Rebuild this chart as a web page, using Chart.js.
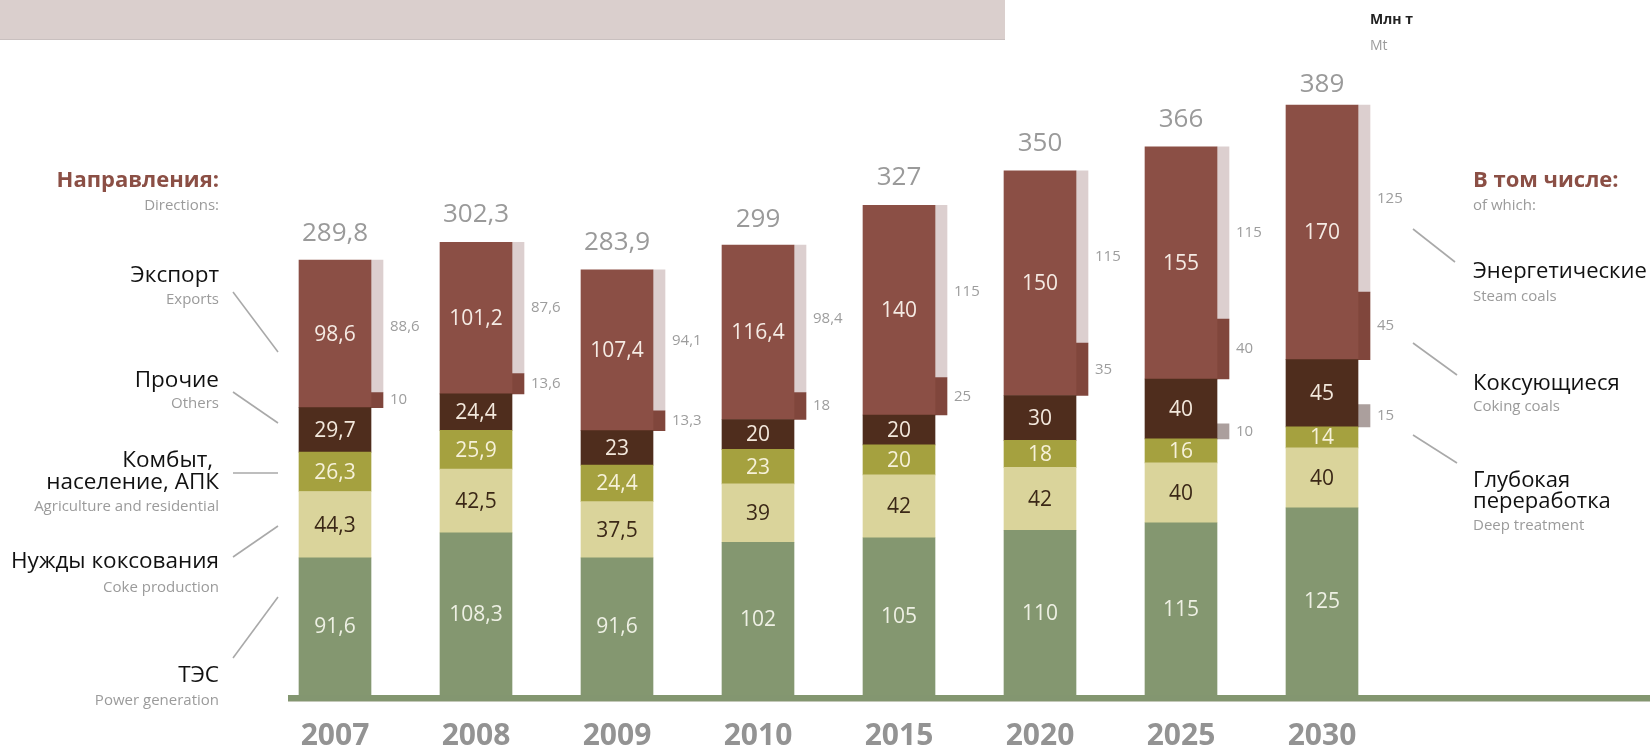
<!DOCTYPE html>
<html><head><meta charset="utf-8">
<script src="https://cdn.jsdelivr.net/npm/chart.js@4.4.1/dist/chart.umd.min.js"></script>
<style>
html,body{margin:0;padding:0;background:#fff;}
#wrap{position:relative;width:1650px;height:747px;overflow:hidden;}
#hdr{position:absolute;left:0;top:0;width:1005px;height:39px;background:#dacfcd;border-bottom:1px solid #c9c0bf;}
#c{position:absolute;left:0;top:0;}
</style></head><body>
<div id="wrap"><div id="hdr"></div><canvas id="c" width="1650" height="747"></canvas></div>
<script>
// ---- data ----
const years   = ['2007','2008','2009','2010','2015','2020','2025','2030'];
const power   = [91.6,108.3,91.6,102,105,110,115,125];
const coke    = [44.3,42.5,37.5,39,42,42,40,40];
const agri    = [26.3,25.9,24.4,23,20,18,16,14];
const others  = [29.7,24.4,23,20,20,30,40,45];
const exportv = [98.6,101.2,107.4,116.4,140,150,155,170];
const totals  = [289.8,302.3,283.9,299,327,350,366,389];
const steam   = [88.6,87.6,94.1,98.4,115,115,115,125];
const coking  = [10,13.6,13.3,18,25,35,40,45];
const deepYears = ['2025','2030'];
const deep    = [10,15];

// ---- styling ----
const FONT = "'Open Sans', 'Noto Sans', sans-serif";
const mainNames  = ['ТЭС','Нужды коксования','Комбыт, население, АПК','Прочие','Экспорт'];
const mainSeries = [power, coke, agri, others, exportv];
const mainColors = ['#849770','#dad49b','#a5a13f','#4f2d1d','#8b4f45'];
const mainText   = ['#eef0e4','#3b2817','#f6f1d9','#f3e8dc','#f5ebe4'];
const SIDE_SHIFT = 42/141;

const fmt = v => String(v).replace('.', ',');

let cum = years.map(() => 0);
const cumAt = [];
const datasets = [];
mainSeries.forEach((arr, k) => {
  const data = arr.map((v, i) => { const a = cum[i]; cum[i] += v; return [a, cum[i]]; });
  cumAt.push(cum.slice());
  datasets.push({
    label: mainNames[k], data, values: arr, kind: 'main', textColor: mainText[k],
    backgroundColor: mainColors[k], xAxisID: 'x', yAxisID: 'y',
    grouped: false, categoryPercentage: 1, barPercentage: 1, maxBarThickness: 72
  });
});
// side bars (of which)
const base3 = cumAt[3]; // top of "others"
const base2 = cumAt[2]; // top of agri
datasets.push({
  label: 'Коксующиеся', kind: 'side', values: coking,
  data: coking.map((v, i) => ({x: i + SIDE_SHIFT, y: [base3[i], base3[i] + v]})),
  backgroundColor: '#80463c', xAxisID: 'x2', yAxisID: 'y',
  grouped: false, categoryPercentage: 1, barPercentage: 1, maxBarThickness: 12
});
datasets.push({
  label: 'Энергетические', kind: 'side', values: steam,
  data: steam.map((v, i) => ({x: i + SIDE_SHIFT, y: [base3[i] + coking[i], base3[i] + coking[i] + v]})),
  backgroundColor: '#dccfcf', xAxisID: 'x2', yAxisID: 'y',
  grouped: false, categoryPercentage: 1, barPercentage: 1, maxBarThickness: 12
});
datasets.push({
  label: 'Глубокая переработка', kind: 'side', values: deep,
  data: deep.map((v, j) => { const i = years.indexOf(deepYears[j]); return {x: i + SIDE_SHIFT, y: [base2[i], base2[i] + v]}; }),
  backgroundColor: '#ab9f9d', xAxisID: 'x2', yAxisID: 'y',
  grouped: false, categoryPercentage: 1, barPercentage: 1, maxBarThickness: 12
});

// ---- annotations ----
const leftTexts = [
  ['Направления:', 187, 'bold 22px', '#8b4f45'],
  ['Directions:', 210, '15px', '#9b9b9b'],
  ['Экспорт', 282, '22.5px', '#111'],
  ['Exports', 304, '15px', '#9b9b9b'],
  ['Прочие', 387, '22.5px', '#111'],
  ['Others', 408, '15px', '#9b9b9b'],
  ['Комбыт, ', 467, '22.5px', '#111'],
  ['население, АПК', 489, '22.5px', '#111'],
  ['Agriculture and residential', 511, '15px', '#9b9b9b'],
  ['Нужды коксования', 568, '22.5px', '#111'],
  ['Coke production', 592, '15px', '#9b9b9b'],
  ['ТЭС', 682, '22.5px', '#111'],
  ['Power generation', 705, '15px', '#9b9b9b']
];
const rightTexts = [
  ['Млн т', 1370, 24, 'bold 14px', '#222'],
  ['Mt', 1370, 50, '14px', '#9b9b9b'],
  ['В том числе:', 1473, 187, 'bold 22px', '#8b4f45'],
  ['of which:', 1473, 210, '15px', '#9b9b9b'],
  ['Энергетические', 1473, 278, '22px', '#111'],
  ['Steam coals', 1473, 301, '15px', '#9b9b9b'],
  ['Коксующиеся', 1473, 390, '22px', '#111'],
  ['Coking coals', 1473, 411, '15px', '#9b9b9b'],
  ['Глубокая', 1473, 487, '22px', '#111'],
  ['переработка', 1473, 508, '22px', '#111'],
  ['Deep treatment', 1473, 530, '15px', '#9b9b9b']
];
const leaders = [
  [233,292,278,352],[233,392,278,423],[233,473,278,473],[233,557,278,526],[233,658,278,597],
  [1413,229,1455,262],[1413,343,1457,375],[1413,435,1457,463]
];

const drawPlugin = {
  id: 'drawPlugin',
  afterDatasetsDraw(chart) {
    const ctx = chart.ctx;
    const ys = chart.scales.y;
    const xs = chart.scales.x;
    const y0 = ys.getPixelForValue(0);
    ctx.save();
    // baseline band
    ctx.fillStyle = '#839670';
    ctx.fillRect(288, y0, 1650 - 288, 6);
    ctx.fillStyle = '#c3c8b8';
    ctx.fillRect(288, y0 + 6, 1650 - 288, 1);

    // year labels (category axis)
    ctx.font = 'bold 30px ' + FONT;
    ctx.fillStyle = '#939393';
    ctx.textAlign = 'center';
    ctx.textBaseline = 'alphabetic';
    years.forEach((yr, i) => ctx.fillText(yr, xs.getPixelForValue(i), y0 + 50));

    // labels inside / beside bars
    chart.data.datasets.forEach((ds, di) => {
      const meta = chart.getDatasetMeta(di);
      meta.data.forEach((el, j) => {
        const p = el.getProps(['x','y','base','width'], true);
        const cy = (p.y + p.base) / 2;
        const v = ds.values[j];
        if (v == null) return;
        if (ds.kind === 'main') {
          ctx.font = '21px ' + FONT;
          ctx.fillStyle = ds.textColor;
          ctx.textAlign = 'center';
          ctx.textBaseline = 'middle';
          ctx.fillText(fmt(v), p.x, cy + 1);
        } else {
          ctx.font = '15px ' + FONT;
          ctx.fillStyle = '#9d9d9d';
          ctx.textAlign = 'left';
          ctx.textBaseline = 'middle';
          ctx.fillText(fmt(v), p.x + p.width / 2 + 7, cy);
        }
      });
    });
    // totals
    const em = chart.getDatasetMeta(4);
    em.data.forEach((el, i) => {
      ctx.font = '26px ' + FONT;
      ctx.fillStyle = '#9a9a9a';
      ctx.textAlign = 'center';
      ctx.textBaseline = 'alphabetic';
      ctx.fillText(fmt(totals[i]), el.x, ys.getPixelForValue(totals[i]) - 20);
    });

    // annotations
    ctx.textBaseline = 'alphabetic';
    ctx.textAlign = 'right';
    leftTexts.forEach(t => {
      ctx.font = t[2] + ' ' + FONT; ctx.fillStyle = t[3];
      ctx.fillText(t[0], 219, t[1]);
    });
    ctx.textAlign = 'left';
    rightTexts.forEach(t => {
      ctx.font = t[3] + ' ' + FONT; ctx.fillStyle = t[4];
      ctx.fillText(t[0], t[1], t[2]);
    });
    ctx.strokeStyle = '#a9a9a9';
    ctx.lineWidth = 1.6;
    leaders.forEach(l => {
      ctx.beginPath(); ctx.moveTo(l[0], l[1]); ctx.lineTo(l[2], l[3]); ctx.stroke();
    });
    ctx.restore();
  }
};

Chart.defaults.font.family = FONT;
new Chart(document.getElementById('c'), {
  type: 'bar',
  data: { labels: years, datasets },
  options: {
    responsive: false,
    animation: false,
    devicePixelRatio: 1,
    layout: { padding: { top: 96, bottom: 52, left: 264.5, right: 257.5 } },
    plugins: { legend: { display: false }, tooltip: { enabled: false } },
    scales: {
      x: { type: 'category', offset: true, display: false },
      x2: { type: 'linear', display: false, min: -0.5, max: 7.5, offset: false },
      y: { type: 'linear', display: false, min: 0, max: 400 }
    }
  },
  plugins: [drawPlugin]
});
</script>
</body></html>
